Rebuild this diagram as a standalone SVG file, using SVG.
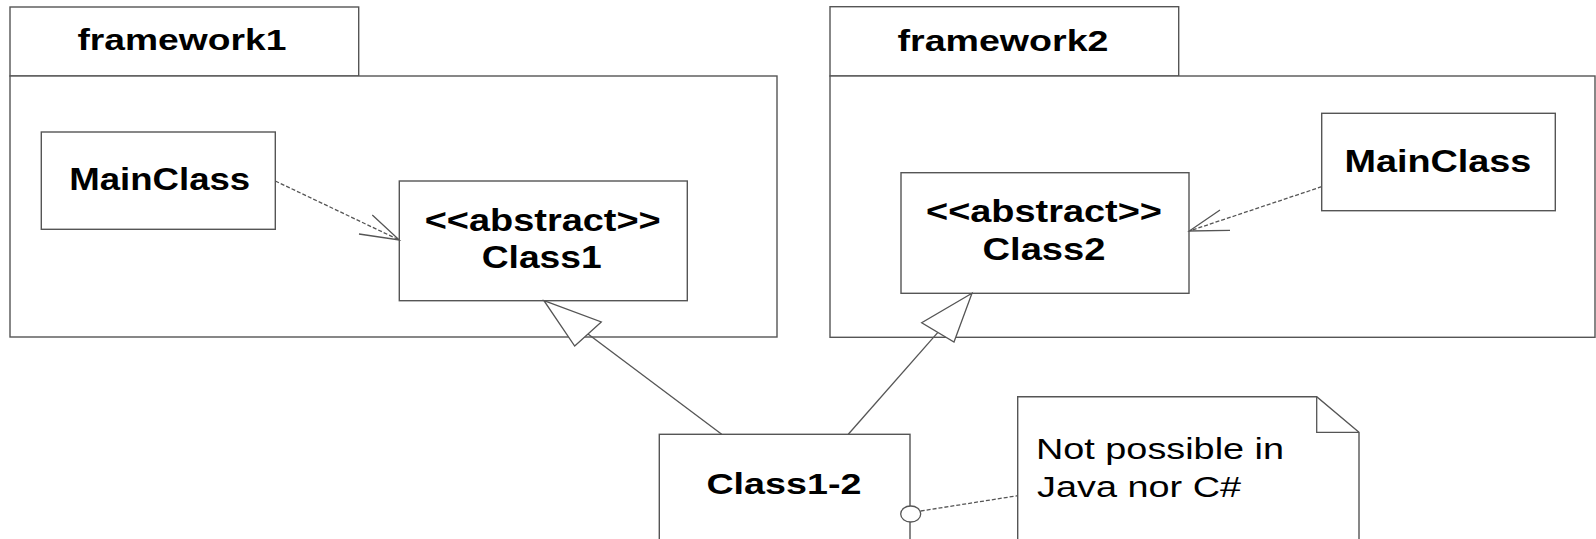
<svg xmlns="http://www.w3.org/2000/svg" width="1596" height="539" viewBox="0 0 1596 539">
<style>
.box{fill:#fff;stroke:#555;stroke-width:1.4}
.ln{fill:none;stroke:#555;stroke-width:1.3}
.dash{fill:none;stroke:#555;stroke-width:1.3;stroke-dasharray:4,2}
.tri{fill:#fff;stroke:#555;stroke-width:1.3}
.b{font-family:"Liberation Sans",Arial,sans-serif;font-weight:bold;fill:#000;text-anchor:middle}
.n{font-family:"Liberation Sans",Arial,sans-serif;fill:#000}
</style>
<rect width="1596" height="539" fill="#fff"/>
<g id="framework1">
<rect class="box" x="10" y="7" width="348.7" height="69"/>
<rect class="box" x="10" y="76" width="767" height="261"/>
<text class="b" x="181.9" y="50" font-size="29" textLength="209" lengthAdjust="spacingAndGlyphs">framework1</text>
</g>
<g id="framework2">
<rect class="box" x="830" y="6.7" width="348.7" height="69.3"/>
<rect class="box" x="830" y="76" width="765" height="261.3"/>
<text class="b" x="1003" y="50.7" font-size="29" textLength="211" lengthAdjust="spacingAndGlyphs">framework2</text>
</g>
<g id="mainclass1">
<rect class="box" x="41.3" y="132" width="234" height="97.3"/>
<text class="b" x="159.7" y="190" font-size="32" textLength="181" lengthAdjust="spacingAndGlyphs">MainClass</text>
</g>
<g id="class1">
<rect class="box" x="399.3" y="181" width="288" height="119.7"/>
<text class="b" x="542.7" y="231" font-size="31" textLength="236" lengthAdjust="spacingAndGlyphs">&lt;&lt;abstract&gt;&gt;</text>
<text class="b" x="541.7" y="268.3" font-size="31" textLength="120" lengthAdjust="spacingAndGlyphs">Class1</text>
</g>
<g id="mainclass2">
<rect class="box" x="1321.7" y="113.3" width="233.6" height="97.4"/>
<text class="b" x="1437.9" y="171.7" font-size="32" textLength="187" lengthAdjust="spacingAndGlyphs">MainClass</text>
</g>
<g id="class2">
<rect class="box" x="901" y="172.7" width="288" height="120.6"/>
<text class="b" x="1044" y="221.7" font-size="31" textLength="236" lengthAdjust="spacingAndGlyphs">&lt;&lt;abstract&gt;&gt;</text>
<text class="b" x="1044" y="260" font-size="31" textLength="123" lengthAdjust="spacingAndGlyphs">Class2</text>
</g>
<g id="class1-2">
<rect class="box" x="659.3" y="434.3" width="250.7" height="130"/>
<text class="b" x="783.9" y="494" font-size="30" textLength="155" lengthAdjust="spacingAndGlyphs">Class1-2</text>
</g>
<g id="note">
<path class="box" d="M1017.7,396.7 L1316.7,396.7 L1359,432.3 L1359,560 L1017.7,560 Z"/>
<polyline class="ln" points="1316.7,396.7 1316.7,432.3 1359,432.3"/>
<text class="n" x="1036" y="459" font-size="30" textLength="248" lengthAdjust="spacingAndGlyphs">Not possible in</text>
<text class="n" x="1037" y="496.7" font-size="30" textLength="204" lengthAdjust="spacingAndGlyphs">Java nor C#</text>
</g>
<g id="connectors">
<line class="dash" x1="275.3" y1="181" x2="399.3" y2="240"/>
<polyline class="ln" points="372.3,215 399.3,240 359,234"/>
<line class="dash" x1="1321.7" y1="186.7" x2="1189.3" y2="231"/>
<polyline class="ln" points="1220,210 1189.3,231 1230,230.3"/>
<line class="ln" x1="588" y1="334" x2="721.7" y2="434.3"/>
<polygon class="tri" points="544,300.7 601.3,322 574.7,346"/>
<line class="ln" x1="937.9" y1="332.4" x2="848.3" y2="434.3"/>
<polygon class="tri" points="972,293.3 921.7,322.7 954,342"/>
<line class="dash" x1="920.7" y1="511" x2="1017.7" y2="495.7"/>
<ellipse class="tri" cx="910.7" cy="514" rx="10" ry="8"/>
</g>
</svg>
